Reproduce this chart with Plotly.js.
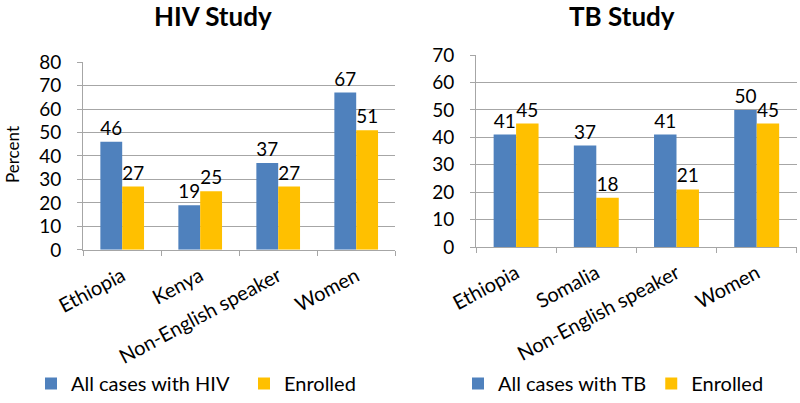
<!DOCTYPE html>
<html>
<head>
<meta charset="utf-8">
<script src="https://cdn.plot.ly/plotly-3.0.1.min.js"></script>
<style>html,body{margin:0;padding:0;background:#fff;}#chart{width:800px;height:403px;}</style>
</head>
<body>
<div id="chart"></div>
<script>
var hivCategories = ["Ethiopia", "Kenya", "Non-English speaker", "Women"];
var hivAllCases = [46, 19, 37, 67];
var hivEnrolled = [27, 25, 27, 51];

var tbCategories = ["Ethiopia", "Somalia", "Non-English speaker", "Women"];
var tbAllCases = [41, 37, 41, 50];
var tbEnrolled = [45, 18, 21, 45];

var hivTicks = [0, 10, 20, 30, 40, 50, 60, 70, 80];
var tbTicks = [0, 10, 20, 30, 40, 50, 60, 70];

var BLUE = "#4F81BD", GOLD = "#FFC000";
var FONT = "Lato, 'Open Sans', sans-serif";

function barTrace(x, y, name, color, xa, ya, leg) {
  return {
    type: "bar", x: x, y: y, name: name, xaxis: xa, yaxis: ya, legend: leg,
    marker: {color: color, line: {color: "rgba(0,0,0,0)", width: 12}},
    text: y.map(String), textposition: "outside", cliponaxis: false,
    textfont: {family: FONT, size: 19, color: "#000"},
    hoverinfo: "x+y"
  };
}

var data = [
  barTrace(hivCategories, hivAllCases, "All cases with HIV", BLUE, "x", "y", "legend"),
  barTrace(hivCategories, hivEnrolled, "Enrolled", GOLD, "x", "y", "legend"),
  barTrace(tbCategories, tbAllCases, "All cases with TB", BLUE, "x2", "y2", "legend2"),
  barTrace(tbCategories, tbEnrolled, "Enrolled", GOLD, "x2", "y2", "legend2")
];

function xAxis(domain, anchor) {
  return {
    domain: domain, anchor: anchor, type: "category",
    showline: true, linecolor: "#a6a6a6", linewidth: 1,
    ticks: "outside", tickson: "boundaries", ticklen: 5, tickcolor: "#a6a6a6",
    tickangle: -28, ticklabelstandoff: 6,
    tickfont: {family: FONT, size: 20, color: "#000"},
    showgrid: false, zeroline: false, fixedrange: true
  };
}
function yAxis(domain, anchor, ticks, max) {
  return {
    domain: domain, anchor: anchor, range: [0, max],
    tickmode: "array", tickvals: ticks, ticktext: ticks.map(String),
    showline: true, linecolor: "#a6a6a6", linewidth: 1,
    ticks: "outside", ticklen: 5, tickcolor: "#a6a6a6", ticklabelstandoff: 12,
    showgrid: true, gridcolor: "#a6a6a6", gridwidth: 1,
    zeroline: false,
    tickfont: {family: FONT, size: 19, color: "#000"},
    fixedrange: true
  };
}

var layout = {
  width: 800, height: 403,
  margin: {l: 0, r: 0, t: 0, b: 0},
  paper_bgcolor: "#fff", plot_bgcolor: "#fff",
  barmode: "group", bargap: 0.44, bargroupgap: 0,
  font: {family: FONT, size: 19, color: "#000"},
  xaxis: xAxis([0.104, 0.494], "y"),
  yaxis: yAxis([0.38, 0.846], "x", hivTicks, 80),
  xaxis2: xAxis([0.595, 0.996], "y2"),
  yaxis2: yAxis([0.387, 0.8635], "x2", tbTicks, 70),
  showlegend: true,
  legend: {
    orientation: "h", x: 31 / 800, y: 0, xanchor: "left", yanchor: "bottom",
    font: {family: FONT, size: 20, color: "#000"},
    itemwidth: 30, entrywidth: 168, entrywidthmode: "pixels",
    bgcolor: "rgba(0,0,0,0)", traceorder: "normal"
  },
  legend2: {
    orientation: "h", x: 458 / 800, y: 0, xanchor: "left", yanchor: "bottom",
    font: {family: FONT, size: 20, color: "#000"},
    itemwidth: 30,
    bgcolor: "rgba(0,0,0,0)", traceorder: "normal"
  },
  annotations: [
    {text: "<b>HIV Study</b>", x: 213 / 800, y: 1 - 16 / 403, xref: "paper", yref: "paper",
     xanchor: "center", yanchor: "middle", showarrow: false,
     font: {family: FONT, size: 26, color: "#000"}},
    {text: "<b>TB Study</b>", x: 622 / 800, y: 1 - 16 / 403, xref: "paper", yref: "paper",
     xanchor: "center", yanchor: "middle", showarrow: false,
     font: {family: FONT, size: 26, color: "#000"}},
    {text: "Percent", x: 12 / 800, y: 1 - 155 / 403, xref: "paper", yref: "paper",
     xanchor: "center", yanchor: "middle", textangle: -90, showarrow: false,
     font: {family: FONT, size: 17, color: "#000"}}
  ]
};

Plotly.newPlot("chart", data, layout, {displayModeBar: false, staticPlot: true});
</script>
</body>
</html>
